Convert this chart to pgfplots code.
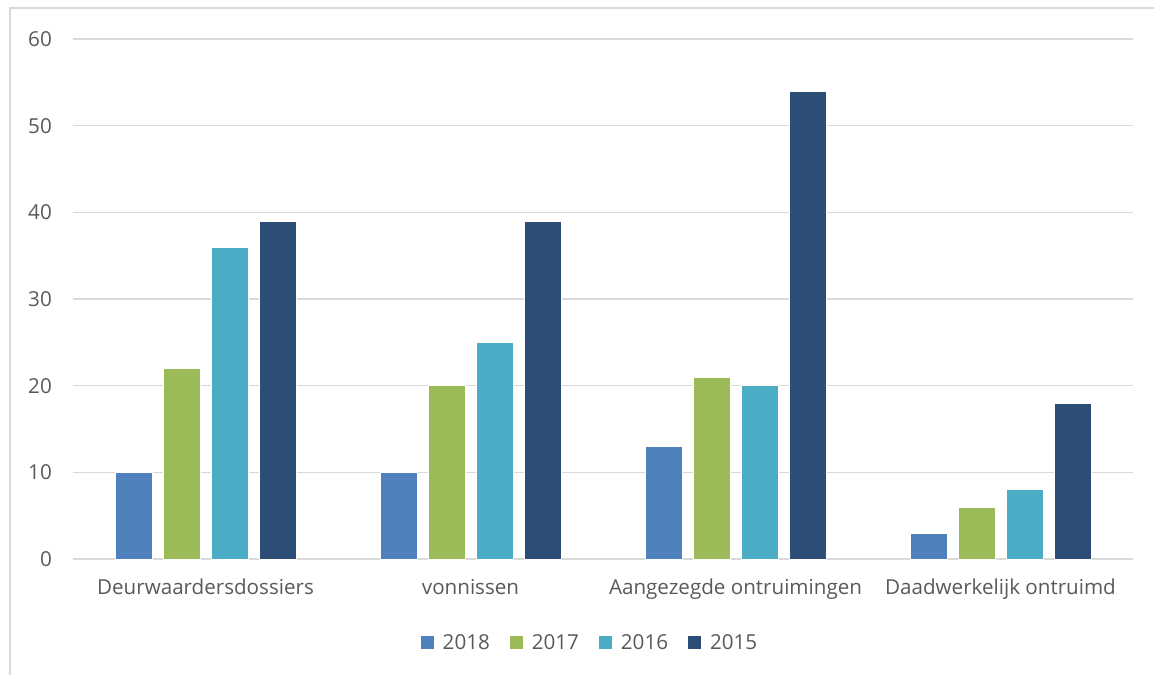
\documentclass[border=0pt]{standalone}
\usepackage{pgfplots}
\pgfplotsset{compat=1.18}
\usepackage{fontspec}
\setmainfont{Open Sans}
\definecolor{txt}{HTML}{595959}
\definecolor{gridc}{HTML}{D9D9D9}
\definecolor{c18}{HTML}{4F81BD}
\definecolor{c17}{HTML}{9BBB59}
\definecolor{c16}{HTML}{4BACC6}
\definecolor{c15}{HTML}{2C4D75}
\begin{document}
\begin{tikzpicture}
\begin{axis}[
  at={(73pt,116pt)}, anchor=south west,
  scale only axis, width=1060pt, height=520pt,
  xmin=-0.5, xmax=3.5, ymin=0, ymax=60,
  ybar=11pt, bar width=37pt,
  axis line style={draw=none},
  ymajorgrids, grid style={gridc, line width=1.3pt},
  ytick={0,10,...,60},
  xtick={0,1,2,3},
  xticklabels={Deurwaardersdossiers,vonnissen,Aangezegde ontruimingen,Daadwerkelijk ontruimd},
  major tick length=0pt, tick style={draw=none},
  /pgf/number format/assume math mode=true,
  ticklabel style={font=\fontsize{20.6}{24}\selectfont, text=txt},
  yticklabel style={anchor=east, inner sep=0pt, xshift=-21pt},
  xticklabel style={anchor=north, inner sep=0pt, yshift=-20pt},
  legend columns=4,
  legend style={draw=none, fill=none, at={(0.4877,-0.1615)}, anchor=center,
    font=\fontsize{20.6}{24}\selectfont, text=txt, column sep=7pt,
    /tikz/every even column/.append style={column sep=18pt}},
  legend image code/.code={\path[#1,draw=none] (0pt,-6.5pt) rectangle (13pt,6.5pt);},
  every axis plot/.append style={draw=white, line width=0.8pt},
]
\addplot[fill=c18] coordinates {(0,10) (1,10) (2,13) (3,3)};
\addplot[fill=c17] coordinates {(0,22) (1,20) (2,21) (3,6)};
\addplot[fill=c16] coordinates {(0,36) (1,25) (2,20) (3,8)};
\addplot[fill=c15] coordinates {(0,39) (1,39) (2,54) (3,18)};
\legend{2018,2017,2016,2015}
\end{axis}
\draw[gridc, line width=1.3pt] (10pt,0pt) -- (10pt,667pt) -- (1154pt,667pt);
\pgfresetboundingbox
\useasboundingbox (0pt,0pt) rectangle (1154pt,675pt);
\end{tikzpicture}
\end{document}
